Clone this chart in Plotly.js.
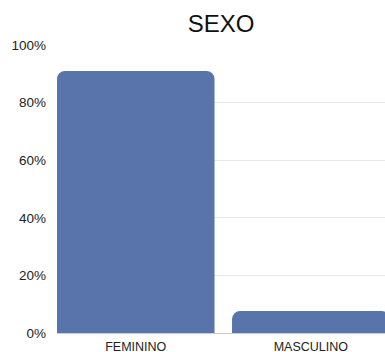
<!DOCTYPE html>
<html>
<head>
<meta charset="utf-8">
<script src="https://cdn.plot.ly/plotly-3.0.1.min.js"></script>
<style>html,body{margin:0;padding:0;background:#fff;}#chart{width:385px;height:352px;}</style>
</head>
<body>
<div id="chart"></div>
<script>
var categories = ["FEMININO", "MASCULINO"];
var values = [91, 7.6];
var yTicks = [0, 20, 40, 60, 80, 100];
var yTickLabels = ["0%", "20%", "40%", "60%", "80%", "100%"];
var chartTitle = "SEXO";

var data = [{
  type: "bar",
  x: categories,
  y: values,
  marker: {color: "#5874aa", cornerradius: 8},
  hoverinfo: "none"
}];

var layout = {
  width: 385, height: 352,
  margin: {l: 57, r: 0, t: 45, b: 19, pad: 0},
  paper_bgcolor: "#ffffff",
  plot_bgcolor: "#ffffff",
  bargap: 0.1,
  font: {family: "Liberation Sans, Arial, sans-serif", color: "#222222"},
  title: {
    text: chartTitle,
    font: {size: 24, color: "#111111", family: "Liberation Sans, Arial, sans-serif"},
    xref: "paper", x: 0.5, xanchor: "center",
    yref: "container", y: 1 - 24/352, yanchor: "middle"
  },
  xaxis: {
    range: [-0.45, 1.424],
    showgrid: false, zeroline: false, showline: false,
    ticks: "", ticklabelstandoff: 4,
    tickfont: {size: 12.5, color: "#222222"}
  },
  yaxis: {
    range: [0, 100],
    tickmode: "array", tickvals: yTicks, ticktext: yTickLabels,
    showgrid: true, gridcolor: "#e8e8e8", gridwidth: 1,
    zeroline: true, zerolinecolor: "#cccccc", zerolinewidth: 1,
    showline: false, ticks: "", ticklabelstandoff: 10,
    tickfont: {size: 13.5, color: "#222222"}
  },
  showlegend: false
};

Plotly.newPlot("chart", data, layout, {staticPlot: true, displayModeBar: false});
</script>
</body>
</html>
